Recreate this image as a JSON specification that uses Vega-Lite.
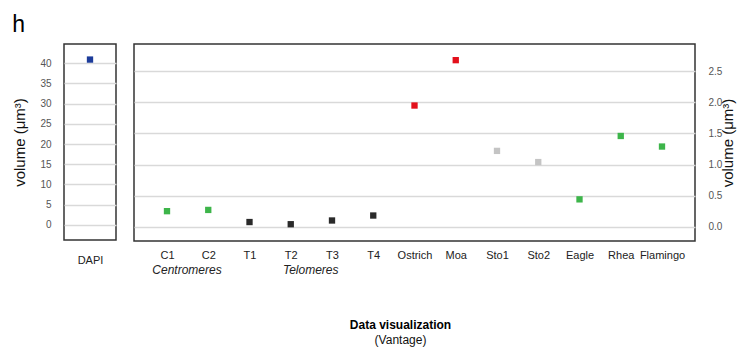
{
  "$schema": "https://vega.github.io/schema/vega-lite/v6.json",
  "autosize": {"type": "pad"},
  "padding": {"left": 12, "top": 14, "right": 0, "bottom": 0},
  "background": "white",
  "title": {
    "text": "h",
    "anchor": "start",
    "fontSize": 23,
    "font": "Liberation Sans",
    "fontWeight": "normal",
    "color": "#000000",
    "offset": 6
  },
  "config": {
    "view": {"stroke": "#333333", "strokeWidth": 1.5},
    "axis": {
      "domain": false,
      "ticks": false,
      "tickSize": 0,
      "gridColor": "#d9d9d9",
      "gridWidth": 1.5,
      "labelFont": "Liberation Sans",
      "titleFont": "Liberation Sans",
      "labelColor": "#555555",
      "titleColor": "#111111",
      "titleFontWeight": "normal",
      "titleFontSize": 15
    }
  },
  "spacing": 16,
  "hconcat": [
    {
      "width": 52,
      "height": 196,
      "data": {"values": [{"sample": "DAPI", "volume": 40.9}]},
      "mark": {"type": "square", "size": 40, "filled": true, "opacity": 1},
      "encoding": {
        "x": {
          "field": "sample",
          "type": "nominal",
          "scale": {"type": "point", "padding": 0.5},
          "axis": {"title": null, "labelAngle": 0, "labelPadding": 14, "labelFontSize": 11, "labelColor": "#222222", "grid": false}
        },
        "y": {
          "field": "volume",
          "type": "quantitative",
          "scale": {"domain": [-3.75, 44.75], "nice": false, "zero": false},
          "axis": {
            "values": [0, 5, 10, 15, 20, 25, 30, 35, 40],
            "title": "volume (μm³)",
            "labelFontSize": 10,
            "labelPadding": 13,
            "titlePadding": 12
          }
        },
        "color": {"value": "#1d3c9a"}
      }
    },
    {
      "width": 561,
      "height": 197,
      "title": {
        "text": "Data visualization",
        "subtitle": "(Vantage)",
        "orient": "bottom",
        "anchor": "middle",
        "font": "Liberation Sans",
        "fontSize": 12,
        "fontWeight": "bold",
        "color": "#000000",
        "subtitleFont": "Liberation Sans",
        "subtitleFontSize": 12,
        "subtitleColor": "#111111",
        "subtitlePadding": 3,
        "dx": -14,
        "offset": 44
      },
      "encoding": {
        "x": {
          "field": "sample",
          "type": "nominal",
          "sort": null,
          "scale": {
            "type": "point",
            "padding": 0.8,
            "domain": ["C1", "C2", "T1", "T2", "T3", "T4", "Ostrich", "Moa", "Sto1", "Sto2", "Eagle", "Rhea", "Flamingo"]
          },
          "axis": {"title": null, "labelAngle": 0, "labelPadding": 8, "labelFontSize": 11, "labelColor": "#222222", "grid": false}
        }
      },
      "layer": [
        {
          "data": {
            "values": [
              {"sample": "C1", "volume": 0.25, "class": "centromere"},
              {"sample": "C2", "volume": 0.27, "class": "centromere"},
              {"sample": "T1", "volume": 0.075, "class": "telomere"},
              {"sample": "T2", "volume": 0.04, "class": "telomere"},
              {"sample": "T3", "volume": 0.1, "class": "telomere"},
              {"sample": "T4", "volume": 0.18, "class": "telomere"},
              {"sample": "Ostrich", "volume": 1.95, "class": "ratite"},
              {"sample": "Moa", "volume": 2.68, "class": "ratite"},
              {"sample": "Sto1", "volume": 1.22, "class": "stored"},
              {"sample": "Sto2", "volume": 1.04, "class": "stored"},
              {"sample": "Eagle", "volume": 0.44, "class": "bird"},
              {"sample": "Rhea", "volume": 1.46, "class": "bird"},
              {"sample": "Flamingo", "volume": 1.29, "class": "bird"}
            ]
          },
          "mark": {"type": "square", "size": 40, "filled": true, "opacity": 1},
          "encoding": {
            "y": {
              "field": "volume",
              "type": "quantitative",
              "scale": {"domain": [-0.23, 2.94], "nice": false, "zero": false},
              "axis": {
                "orient": "right",
                "values": [0, 0.5, 1, 1.5, 2, 2.5],
                "format": ".1f",
                "labelOverlap": false,
                "grid": false,
                "offset": 13,
                "title": "volume (μm³)",
                "titleAngle": 270,
                "labelFontSize": 10,
                "labelPadding": 0,
                "titlePadding": 14
              }
            },
            "color": {
              "field": "class",
              "type": "nominal",
              "legend": null,
              "scale": {
                "domain": ["centromere", "telomere", "ratite", "stored", "bird"],
                "range": ["#3db54a", "#2a2a2a", "#e3101b", "#c4c4c4", "#3db54a"]
              }
            }
          }
        },
        {
          "data": {
            "values": [
              {"sample": "C1", "label": "Centromeres"},
              {"sample": "T2", "label": "Telomeres"}
            ]
          },
          "mark": {"type": "text", "dx": 20, "font": "Liberation Sans", "fontSize": 12, "fontStyle": "italic", "color": "#222222", "align": "center", "baseline": "middle"},
          "encoding": {
            "y": {
              "datum": -0.69,
              "type": "quantitative",
              "axis": {
                "orient": "left",
                "values": [0, 0.5, 1, 1.5, 2, 2.5],
                "labels": false,
                "grid": true,
                "title": null,
                "labelOverlap": false
              }
            },
            "text": {"field": "label"}
          }
        }
      ]
    }
  ]
}
